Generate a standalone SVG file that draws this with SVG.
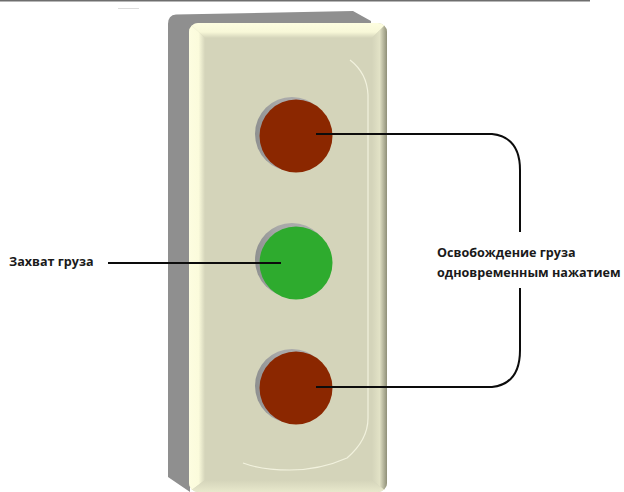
<svg xmlns="http://www.w3.org/2000/svg" width="624" height="492" viewBox="0 0 624 492">
<defs>
<linearGradient id="fl" x1="0" x2="1" y1="0" y2="0"><stop offset="0" stop-color="#fdfde0"/><stop offset=".6" stop-color="#fbfbdc"/><stop offset="1" stop-color="#d4d4ba"/></linearGradient>
<linearGradient id="fr" x1="0" x2="1" y1="0" y2="0"><stop offset="0" stop-color="#d4d4ba"/><stop offset=".5" stop-color="#e2e2c6"/><stop offset="1" stop-color="#8f8f78"/></linearGradient>
<linearGradient id="ft" x1="0" x2="0" y1="0" y2="1"><stop offset="0" stop-color="#fdfde0"/><stop offset=".6" stop-color="#f8f8d8"/><stop offset="1" stop-color="#d4d4ba"/></linearGradient>
<linearGradient id="fb" x1="0" x2="0" y1="0" y2="1"><stop offset="0" stop-color="#d4d4ba"/><stop offset="1" stop-color="#e8e8cc"/></linearGradient>
<linearGradient id="hole" x1="0" x2="1" y1="0" y2="0"><stop offset="0" stop-color="#8e9090"/><stop offset=".3" stop-color="#a8a8a8"/><stop offset="1" stop-color="#b0b0b0"/></linearGradient>
<clipPath id="front"><rect x="189" y="23" width="198" height="469" rx="9"/></clipPath>
</defs>
<style>
.l{fill:none;stroke:#0c0c0c;stroke-width:2}
.t{font-family:"Open Sans","Noto Sans",sans-serif;font-weight:700;font-size:12.600px;fill:#1a1a1a}
.h{fill:url(#hole)}
.r{fill:#8b2700}
.g{fill:#2eab2e}
</style>
<rect width="624" height="492" fill="#fff"/>
<rect x="0" y="0" width="590" height="1.5" fill="#6e6e6e"/>
<rect x="118" y="8" width="21" height="1" fill="#dcdcdc"/>
<g id="body">
<path d="M168 24Q168 15 176 14.500L353 11L371 21V30H190V492L168 477Z" fill="#8f8f8f"/>
<g clip-path="url(#front)">
<rect x="189" y="23" width="198" height="469" fill="#d4d4ba"/>
<polygon points="189,23 387,23 372,38 205,38" fill="url(#ft)"/>
<polygon points="189,23 205,38 205,480 189,492" fill="url(#fl)"/>
<polygon points="387,23 372,38 372,480 387,492" fill="url(#fr)"/>
<polygon points="189,492 205,480 372,480 387,492" fill="url(#fb)"/>
</g>
<path d="M350 60Q367 73 368 95V418Q368 440 347 458Q320 470 290 470Q262 470 243 463" fill="none" stroke="#f2f2de" stroke-width="1.200"/>
</g>
<g id="button-top"><circle class="h" cx="292" cy="134" r="37"/><circle class="r" cx="296" cy="136" r="36.500"/></g>
<g id="button-middle"><circle class="h" cx="292" cy="260" r="37"/><circle class="g" cx="296" cy="263" r="36.500"/></g>
<g id="button-bottom"><circle class="h" cx="292" cy="386" r="37"/><circle class="r" cx="296" cy="388" r="36.500"/></g>
<g id="connectors">
<path class="l" d="M316 134H492Q520 137 520 170V232"/>
<path class="l" d="M316 387H492Q520 384 520 350V288"/>
<path class="l" d="M108 263H281"/>
</g>
<g id="label-grab"><text class="t" x="9" y="266">Захват груза</text></g>
<g id="label-release"><text class="t" x="437" y="257">Освобождение груза</text><text class="t" x="437" y="277">одновременным нажатием</text></g>
</svg>
